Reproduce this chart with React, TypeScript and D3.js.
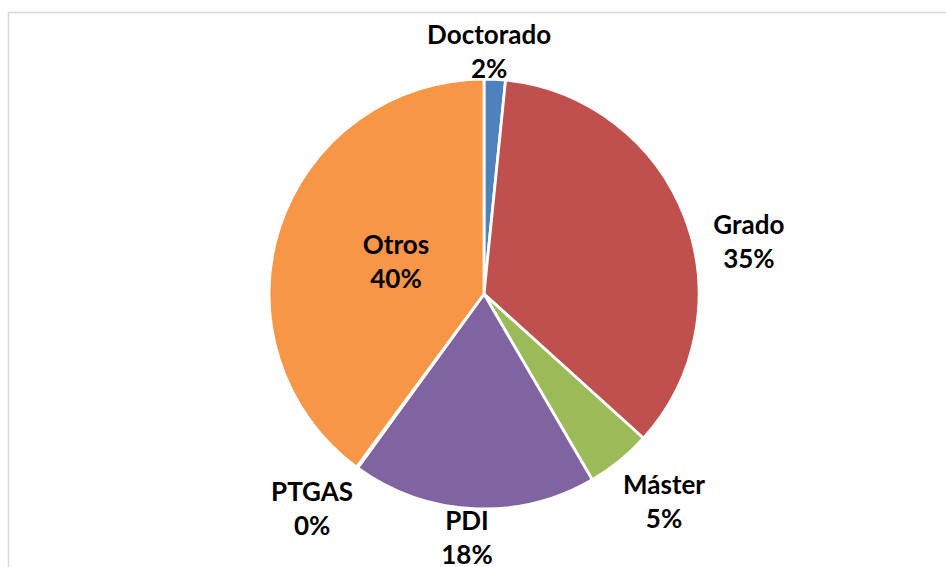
import React from "react";
import * as d3 from "d3";

const categories = ["Doctorado", "Grado", "Máster", "PDI", "PTGAS", "Otros"];
const shares = [1.6, 35.1, 4.9, 18.4, 0.1, 39.9];
const colors = ["#4F81BD", "#C0504D", "#9BBB59", "#8064A2", "#4BACC6", "#F79646"];

// label placement, polar around the pie centre: [angle in degrees, distance in radii]
const labelPolar: [number, number][] = [
  [1.2, 1.128],
  [78.8, 1.256],
  [139.1, 1.279],
  [184, 1.138],
  [218.7, 1.279],
  [289.7, 0.435],
];

const W = 946;
const H = 567;
const cx = 484;
const cy = 294;
const radius = 215;

type Slice = { name: string; value: number; color: string };

const slices: Slice[] = categories.map((name, i) => ({
  name,
  value: shares[i],
  color: colors[i],
}));

export default function App() {
  const total = d3.sum(shares);
  const pie = d3
    .pie<Slice>()
    .sort(null)
    .value((d) => d.value);
  const arc = d3.arc<d3.PieArcDatum<Slice>>().innerRadius(0).outerRadius(radius);
  const arcs = pie(slices);

  return (
    <svg
      width={W}
      height={H}
      style={{ position: "fixed", left: 0, top: 0, background: "#fff" }}
    >
      {/* chart frame, runs off the right and bottom */}
      <rect
        x={8.5}
        y={12.5}
        width={1000}
        height={1000}
        fill="#fff"
        stroke="#d9d9d9"
        strokeWidth={1.6}
      />
      <g transform={`translate(${cx},${cy})`}>
        {arcs.map((a) => (
          <path
            key={a.data.name}
            d={arc(a) || ""}
            fill={a.data.color}
            stroke="#fff"
            strokeWidth={2.8}
            strokeLinejoin="round"
          />
        ))}
        {arcs.map((a, i) => {
          const [deg, k] = labelPolar[i];
          const [x, y] = d3.pointRadial((deg * Math.PI) / 180, k * radius);
          const pct = Math.round((a.data.value / total) * 100);
          return (
            <text
              key={"l" + a.data.name}
              x={x}
              textAnchor="middle"
              fontFamily="Lato, 'Open Sans', sans-serif"
              fontWeight={700}
              fontSize={26}
              fill="#000"
            >
              <tspan x={x} y={y - 8}>
                {a.data.name}
              </tspan>
              <tspan x={x} y={y + 26}>
                {pct}%
              </tspan>
            </text>
          );
        })}
      </g>
    </svg>
  );
}
